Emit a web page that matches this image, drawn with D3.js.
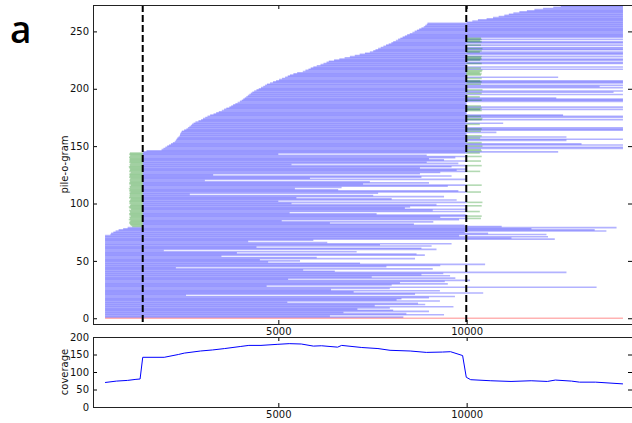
<!DOCTYPE html>
<html><head><meta charset="utf-8">
<script src="https://cdn.jsdelivr.net/npm/d3@7"></script>
<style>body{margin:0;background:#fff}svg{display:block;font-family:"DejaVu Sans",sans-serif}</style>
</head><body><svg id="c" width="632" height="423"></svg>
<script>
// ---------- data ----------
const xDomain = [80, 14390];
const pileDomain = [-5, 273];
const covDomain = [0, 200];
const xTicks = [5000, 10000];
const pileTicks = [0, 50, 100, 150, 200, 250];
const covTicks = [0, 50, 100, 150, 200];
const breakpoints = [1400, 9990];
const refRead = [400, 14150]; // row 0 (reference)

// reads, one per row, rows 1..273
const readStart = [
400,400,400,400,400,400,400,400,400,400, 400,400,400,400,400,400,400,400,400,400,
400,400,400,400,400,400,400,400,400,400, 400,400,400,400,400,400,400,400,400,400,
400,400,400,400,400,400,400,400,400,400, 400,400,400,400,400,400,400,400,400,400,
400,400,400,400,400,400,400,400,400,400, 400,400,
540,560,620,680,760,880,1000,
1400,1400,1400,1400,1400,1400,1400,1400,1400,1400, 1400,1400,1400,1400,1400,1400,1400,1400,1400,1400,
1400,1400,1400,1400,1400,1400,1400,1400,1400,1400, 1400,1400,1400,1400,1400,1400,1400,1400,1400,1400,
1400,1400,1400,1400,1400,1400,1400,1400,1400,1400, 1400,1400,1400,1400,1400,1400,1400,1400,1400,1400,
1400,1400,1400,1400,1400,
1420,1500,1900,1950,2000,2050,2100,2150,2200,2250,2280,2300,2320,2350,2380,2390,2400,2420,2440,2500,
2560,2600,2640,2680,2710,2750,2800,2880,2950,3000,3060,3120,3190,3280,3350,3420,3500,3560,3620,3700,
3750,3800,3860,3920,3980,4030,4070,4110,4150,4190,4230,4270,4310,4360,4420,4480,4540,4600,4650,4700,
4780,4860,4940,5020,5100,5180,5250,5310,5400,5500,5650,5720,5800,5860,5930,6020,6120,6200,6280,6340,
6480,6620,6760,6900,7030,7160,7300,7430,7520,7580,7650,7720,7790,7860,7930,8000,8050,8120,8180,8240,
8300,8360,8420,8490,8560,8620,8680,8740,8800,8860,8900,8940,8960,
10000,10150,10300,10530,10700,10850,11000,11120,11240,11400,11600,11800,12030,12300,12500,12740
];
const readEnd = [
8320,6370,9400,8400,6730,9000,8050,7100,7960,9650, 7560,8900,8710,5240,9290,8140,8270,9000,9690,2550,
8630,10440,7000,9290,6400,7960,13450,4690,8010,9500, 8230,9420,10090,5260,9700,7480,9560,8800,9380,12650,
6500,5660,9100,2280,7870,9300,10490,7170,4730,5576, 4510,8630,6020,3490,8890,8670,3900,7080,1960,9200,
8800,4420,9070,7700,9600,6300,4200,5930,12340,11190, 12160,9800,
12120,10570,9950,13710,13400,11720,13980,
10930,9950,8600,6370,9115,5090,9800,10000,9300,10000, 10000,7610,5300,10000,9100,10000,8360,8500,10000,9200,
5350,10000,5000,9735,8010,5480,9400,7520,2650,7650, 10000,9780,6590,5440,6680,9500,10000,7250,9000,7430,
3050,10000,5840,8800,9600,3270,8760,9300,10000,9735, 10000,8760,9600,10000,5350,9780,8940,10000,9400,9000,
9700,10000,8940,5000,10000,
12430,10000,10000,14150,14150,10000,14150,13050,10000,10000,12650,14150,10000,12650,10000,10000,10000,10790,10000,14150,
14150,14150,10000,10000,10000,10970,10000,10000,14150,10000,14150,14150,12560,10000,10000,10000,10000,14150,10000,14150,
10000,10000,10000,10000,14150,14150,14150,12380,10000,10000,14150,10000,13900,14150,10000,10000,14150,13530,14150,10000,
14150,14150,14150,10000,10000,12430,10000,10000,10000,10000,10000,10000,14150,10000,14150,10000,10000,14150,14150,10000,
14150,14150,10000,14150,10000,14150,14150,14150,10000,14150,14150,14150,10000,14150,10000,14150,14150,10000,14150,10000,
14150,14150,14150,14150,14150,14150,14150,14150,14150,14150,14150,14150,14150,
14150,14150,14150,14150,14150,14150,14150,14150,14150,14150,14150,14150,14150,14150,14150,14150
];

// soft-clipped parts (green)
const leftClipRow = [
80,81,82,83,84,85,86,87,88,89,90,91,92,93,94,95,96,97,98,99,100,101,102,103,104,105,106,107,108,109,
110,111,112,113,114,115,116,117,118,119,120,121,122,123,124,125,126,127,128,129,130,131,132,133,134,
135,136,137,138,139,140,141,142,143,144];
const leftClipStart = [
1120,1080,1060,1040,1050,1070,1030,1060,1045,1080, 1050,1035,1065,1055,1040,1090,1050,1030,1060,1075,
1045,1050,1040,1065,1080,1035,1055,1050,1060,1045, 1070,1040,1055,1030,1060,1050,1085,1045,1040,1065,
1050,1055,1070,1035,1060,1045,1050,1080,1040,1055, 1065,1045,1030,1060,1050,1070,1040,1055,1045,1060,
1035,1050,1065,1040,1060];
const rightClipRow = [87,89,93,98,101,110,116,128,133,137,141,144,146,147,150,153,157,159,163,165,169,173,174,176,
181,182,183,185,190,193,196,199,204,206,207,209,212,213,214,215,216,218,222,225,226,227,228,232,233,235,238,241,242,243,244];
const rightClipEnd = [
10380,10400,10350,10400,10420,10380,10400,10360,10400,10380, 10400,10350,10400,10380,10420,10400,10360,10400,10380,10400,
10350,10400,10420,10380,10400,10360,10400,10380,10400,10350, 10400,10420,10380,10400,10360,10400,10380,10400,10350,10400,
10420,10380,10400,10360,10400,10380,10400,10350,10400,10420, 10380,10400,10360,10400,10380];

// coverage
const covPos = [400,700,1000,1220,1330,1400,1970,2345,2505,2934,3255,3576,4004,4218,4540,4968,5289,5610,5931,6146,
 6574,6681,7216,7645,7966,8501,8929,9357,9572,9893,9990,10107,10642,11178,11713,12142,12356,12784,12998,13426,14150];
const covVal = [70,74,76,79,80,142,142,150,154,160,163,167,173,176,176,179,181,180,174,175,
 171,176,170,167,162,160,156,157,158,147,85,78,75,73,75,73,77,74,71,71,66];

// ---------- drawing ----------
const svg = d3.select("#c");
const L = 93, R = 632, T1 = 5, B1 = 324, T2 = 337, B2 = 407;
const x = d3.scaleLinear().domain(xDomain).range([L, R]);
const yP = d3.scaleLinear().domain(pileDomain).range([B1, T1]);
const yC = d3.scaleLinear().domain(covDomain).range([B2, T2]);

svg.append("defs").append("clipPath").attr("id","cp1").append("rect")
  .attr("x",L).attr("y",T1).attr("width",R-L).attr("height",B1-T1);

const g1 = svg.append("g").attr("clip-path","url(#cp1)");
const rows = readStart.map((s,i)=>({row:i+1,s:s,e:readEnd[i]}));
g1.selectAll("line.read").data(rows).join("line").attr("class","read")
  .attr("x1",d=>x(d.s)).attr("x2",d=>x(d.e))
  .attr("y1",d=>yP(d.row)).attr("y2",d=>yP(d.row))
  .attr("stroke","rgb(0,0,255)").attr("stroke-opacity",0.3).attr("stroke-width",1.6);
g1.append("line").attr("x1",x(refRead[0])).attr("x2",x(refRead[1]))
  .attr("y1",yP(0)).attr("y2",yP(0))
  .attr("stroke","rgb(255,0,0)").attr("stroke-opacity",0.3).attr("stroke-width",1.6);
const lc = leftClipRow.map((r,i)=>({row:r,s:leftClipStart[i],e:breakpoints[0]}));
const rc = rightClipRow.map((r,i)=>({row:r,s:breakpoints[1],e:rightClipEnd[i]}));
g1.selectAll("line.clip").data(lc.concat(rc)).join("line").attr("class","clip")
  .attr("x1",d=>x(d.s)).attr("x2",d=>x(d.e))
  .attr("y1",d=>yP(d.row)).attr("y2",d=>yP(d.row))
  .attr("stroke","rgb(0,128,0)").attr("stroke-opacity",0.3).attr("stroke-width",1.6);
g1.selectAll("line.bp").data(breakpoints).join("line").attr("class","bp")
  .attr("x1",d=>x(d)).attr("x2",d=>x(d)).attr("y1",T1).attr("y2",B1)
  .attr("stroke","#000").attr("stroke-width",2).attr("stroke-dasharray","7,3");

// coverage line
svg.append("path").datum(covPos.map((p,i)=>[p,covVal[i]]))
  .attr("d", d3.line().x(d=>x(d[0])).y(d=>yC(d[1])))
  .attr("fill","none").attr("stroke","rgb(0,0,255)").attr("stroke-width",1);

// axes
function axes(top, bottom, y, ticks){
  const fs = "10px";
  const ax = svg.append("g").attr("transform",`translate(${L},0)`)
    .call(d3.axisLeft(y).tickValues(ticks).tickSize(-4).tickPadding(4).tickFormat(d3.format("d")));
  svg.append("g").attr("transform",`translate(${R},0)`)
    .call(d3.axisRight(y).tickValues(ticks).tickSize(-4).tickFormat(""));
  const bx = svg.append("g").attr("transform",`translate(0,${bottom})`)
    .call(d3.axisBottom(x).tickValues(xTicks).tickSize(-4).tickPadding(4).tickFormat(d3.format("d")));
  svg.append("g").attr("transform",`translate(0,${top})`)
    .call(d3.axisTop(x).tickValues(xTicks).tickSize(-4).tickFormat(""));
  svg.selectAll(".domain").remove();
  svg.selectAll(".tick line").attr("stroke","#000");
  [ax,bx].forEach(a=>a.selectAll("text").attr("font-size",fs).attr("fill","#111").attr("font-family","DejaVu Sans"));
  svg.append("rect").attr("x",L+0.5).attr("y",top+0.5).attr("width",R-L).attr("height",bottom-top)
    .attr("fill","none").attr("stroke","#222").attr("stroke-width",1);
}
axes(T1, B1, yP, pileTicks);
axes(T2, B2, yC, covTicks);

svg.append("text").attr("transform",`translate(68,${(T1+B1)/2}) rotate(-90)`)
  .attr("text-anchor","middle").attr("font-size","10px").attr("fill","#111").text("pile-o-gram");
svg.append("text").attr("transform",`translate(68,${(T2+B2)/2}) rotate(-90)`)
  .attr("text-anchor","middle").attr("font-size","10px").attr("fill","#111").text("coverage");
svg.append("text").attr("x",10).attr("y",43).attr("font-family","'Open Sans'").attr("font-weight",600)
  .attr("font-size","37px").attr("fill","#000").text("a");
</script></body></html>
